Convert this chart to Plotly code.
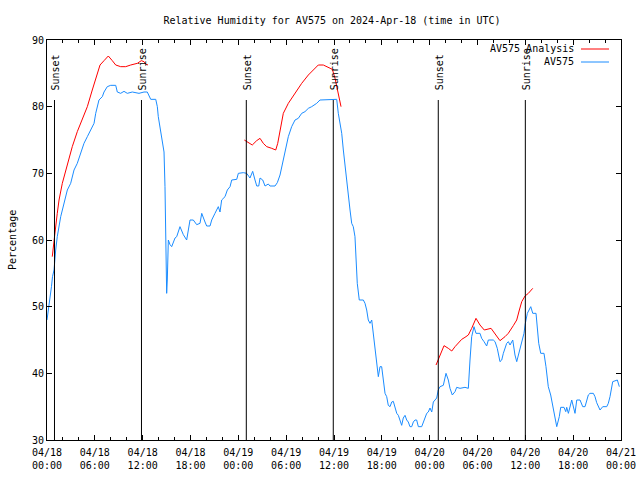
import pandas as pd
import plotly.graph_objects as go

start = pd.Timestamp("2024-04-18 00:00")

title_text = "Relative Humidity for AV575 on 2024-Apr-18 (time in UTC)"
obs_name = "AV575"
ana_name = "AV575 Analysis"

# observed RH (hours since 04/18 00:00 UTC, %)
obs_hours = [0, 0.19, 0.38, 0.56, 0.69, 0.88, 1.09, 1.29, 1.72, 2.13, 2.55, 2.97, 3.39, 3.80,
             4.23, 4.64, 5.06, 5.48, 5.90, 6.11, 6.31, 6.52, 6.94, 7.15, 7.56, 7.99, 8.62,
             8.82, 9.24, 9.66, 10.07, 10.70, 11.54, 12.17, 12.58, 13.01, 13.64, 13.84, 13.96,
             14.26, 14.51, 14.68, 14.80, 14.93, 15.01, 15.09, 15.22, 15.43, 15.64, 16.06,
             16.27, 16.68, 17.10, 17.52, 17.94, 18.35, 18.78, 19.19, 19.41, 19.82, 20.03,
             20.45, 20.66, 21.07, 21.49, 21.70, 21.91, 22.33, 22.62, 22.96, 23.17, 23.80,
             24.00, 24.62, 25.05, 25.46, 25.80, 26.09, 26.31, 26.56, 26.72, 27.06, 27.35,
             27.76, 27.97, 28.60, 28.89, 29.23, 29.44, 29.85, 30.27, 30.69, 31.11, 31.52,
             31.95, 32.36, 32.78, 33.20, 33.62, 33.83, 34.24, 36.34, 36.54, 36.75, 36.97,
             37.17, 37.38, 37.59, 37.79, 38.01, 38.22, 38.42, 38.63, 38.76, 38.92, 39.17,
             39.68, 39.89, 40.10, 40.30, 40.52, 40.73, 40.93, 41.14, 41.36, 41.56, 41.77,
             41.98, 42.19, 42.40, 42.61, 42.81, 43.03, 43.24, 43.44, 43.65, 43.87, 44.07,
             44.28, 44.49, 44.69, 44.91, 45.12, 45.32, 45.53, 45.75, 45.95, 46.16, 46.37,
             46.58, 47.00, 47.20, 47.42, 47.63, 47.83, 48.04, 48.26, 48.46, 48.67, 48.88,
             49.08, 49.30, 49.71, 50.05, 50.34, 50.55, 50.84, 51.18, 51.39, 51.81, 52.43,
             52.85, 53.06, 53.27, 53.56, 53.81, 54.31, 54.52, 54.82, 55.15, 55.36, 55.98,
             56.20, 56.48, 56.82, 57.04, 57.24, 57.66, 57.87, 58.08, 58.42, 58.70, 58.92,
             59.21, 59.55, 59.83, 60.00, 60.25, 60.68, 60.93, 61.34, 61.50, 61.68, 61.93,
             62.34, 62.59, 62.88, 63.18, 63.43, 63.64, 63.94, 64.26, 64.44, 64.85, 65.07,
             65.19, 65.40, 65.82, 66.02, 66.23, 66.45, 66.86, 67.20, 67.49, 67.90, 68.11,
             68.53, 68.74, 68.95, 69.15, 69.37, 69.71, 70.21, 70.41, 70.62, 70.96, 71.54,
             71.79]
obs_values = [48, 49.5, 51, 53, 54.5, 55.5, 58.5, 60.5, 63.5, 65.5, 67.5, 68.5, 70.5, 71.5,
              73, 74.5, 75.5, 76.5, 77.5, 79, 80, 81, 81.5, 82.2, 83, 83.2, 83.2,
              82.2, 82, 82.3, 82, 82.2, 82, 82.2, 82.2, 81.1, 81.1, 80, 78.5,
              76, 74.5, 73.2, 68, 57.5, 52, 54, 60, 59.3, 59, 60.3,
              60.5, 62, 60.8, 60, 63, 63, 62.3, 62.5, 64, 62.7, 62.1,
              62.1, 63, 64, 65, 64.2, 66, 66.5, 67.5, 68, 69, 69.1,
              70, 70.1, 70, 69.3, 70.3, 69, 68.1, 68.1, 69.3, 69, 68.1,
              68.4, 68.1, 68.1, 68.6, 69.75, 71, 73.5, 75.5, 77, 78, 78.25,
              79, 79.25, 79.75, 80, 80.25, 80.5, 81, 81.1, 79, 77.5, 76,
              73.5, 71, 68.5, 66.5, 64.5, 62.5, 62, 60.5, 57.5, 53.5, 51,
              51, 50.5, 49.5, 48, 47.5, 48, 46, 44, 42, 39.5, 41,
              41, 39, 37, 36.5, 35.2, 35, 35.7, 35.8, 34.8, 34, 33.7,
              33, 32.2, 33.3, 33.7, 33, 32.7, 32, 32, 32.7, 33, 33,
              32, 32, 32.7, 33.3, 34, 34.2, 34.8, 34.2, 35.7, 36, 36.3,
              37.5, 38, 38.2, 40, 39, 37.75, 36.75, 37.25, 37.9, 37.75, 37.9,
              37.75, 42, 45.5, 47, 46, 46, 45.25, 44.75, 44.1, 45, 45,
              44.75, 43.75, 41.75, 42, 43, 44.5, 44.75, 44.25, 45, 42.75, 41.75,
              43.25, 44.75, 46, 47.5, 49, 50, 49, 49, 47, 44.5, 43,
              43, 41, 38, 36.75, 35.25, 33.75, 32, 33.5, 34.9, 34.9, 34.25,
              34.9, 34, 36, 35, 34, 36, 36, 35, 35, 36.75, 37,
              37, 36.5, 35.6, 35, 34.5, 35, 35, 35.5, 36.5, 38.75, 39,
              38]

# analysis RH, three segments
ana1_hours = [0.66, 0.79, 0.97, 1.29, 1.51, 1.92, 2.35, 2.76, 3.17, 3.80, 4.43, 5.06, 5.68,
              6.31, 6.65, 7.15, 7.69, 8.19, 8.62, 9.24, 9.87, 10.50, 11.33, 11.83, 12.17,
              12.38, 12.67]
ana1_values = [57.5, 59.25, 60.75, 64, 66, 68.5, 70.5, 72.5, 74, 76.25, 78, 80, 82.5,
               85, 86.25, 86.9, 87.6, 86.9, 86.25, 86, 86, 86.25, 86.5, 86.9, 86.75,
               86.4, 86.25]
ana2_hours = [24.75, 25.25, 25.75, 26.30, 26.72, 27.13, 27.56, 28.19, 28.69, 28.94, 29.23,
              29.64, 30.27, 31.11, 31.95, 32.78, 33.62, 34.03, 34.66, 35.29, 35.79, 36.13,
              36.46, 36.75, 36.88]
ana2_values = [75, 74.6, 74.25, 74.9, 75.25, 74.5, 74, 73.75, 73.5, 74.5, 76.5,
               79, 80.5, 82, 83.5, 84.75, 85.75, 86.25, 86.25, 85.9, 85.6, 84.25,
               82.5, 80.5, 80]
ana3_hours = [48.80, 49.08, 49.38, 49.80, 50.34, 50.77, 51.18, 51.59, 52.02, 52.43, 52.85,
              53.27, 53.81, 54.31, 54.85, 55.70, 56.20, 56.82, 57.45, 57.86, 58.49, 58.92,
              59.25, 59.55, 59.96, 60.38, 60.93]
ana3_values = [41.25, 42, 42.9, 44.15, 43.75, 43.35, 44, 44.5, 45.1, 45.4, 45.75,
               46.75, 48.25, 47.25, 46.5, 46.75, 45.9, 44.9, 45.5, 46, 47.15, 48,
               49.5, 50.75, 51.6, 52, 52.75]

sunset_hours = [0.94, 25.00, 49.08]
sunrise_hours = [11.85, 35.91, 60.00]

y_ticks = [30, 40, 50, 60, 70, 80, 90]

FONT = "DejaVu Sans Mono"
RED = "#ff0000"
BLUE = "#1a8cff"


def t(h):
    if h is None:
        return None
    return (start + pd.Timedelta(hours=h)).strftime("%Y-%m-%d %H:%M:%S")


ana_x = [t(h) for h in ana1_hours] + [None] + [t(h) for h in ana2_hours] + [None] + [t(h) for h in ana3_hours]
ana_y = ana1_values + [None] + ana2_values + [None] + ana3_values

fig = go.Figure()
fig.add_trace(go.Scatter(x=ana_x, y=ana_y, mode="lines", name=ana_name,
                         line=dict(color=RED, width=1), connectgaps=False))
fig.add_trace(go.Scatter(x=[t(h) for h in obs_hours], y=obs_values, mode="lines", name=obs_name,
                         line=dict(color=BLUE, width=1)))

shapes = []
annotations = []
for label, hours in (("Sunset", sunset_hours), ("Sunrise", sunrise_hours)):
    for h in hours:
        shapes.append(dict(type="line", xref="x", yref="y domain", x0=t(h), x1=t(h), y0=0, y1=0.85,
                           line=dict(color="black", width=1)))
        annotations.append(dict(x=t(h), y=0.87, xref="x", yref="y domain", text=label,
                                textangle=-90, showarrow=False, xanchor="center", yanchor="bottom",
                                xshift=1, font=dict(family=FONT, size=10, color="black")))

# manual legend (gnuplot style: text right-aligned, sample on the right)
for i, (name, col) in enumerate(((ana_name, RED), (obs_name, BLUE))):
    yp = 0.9775 - i * 0.0325
    annotations.append(dict(x=0.921, y=yp, xref="paper", yref="paper", text=name, showarrow=False,
                            xanchor="right", yanchor="middle",
                            font=dict(family=FONT, size=10, color="black")))
    shapes.append(dict(type="line", xref="paper", yref="paper", x0=0.9303, x1=0.9791, y0=yp, y1=yp,
                       line=dict(color=col, width=1)))

annotations.append(dict(x=-0.061, y=0.5, xref="paper", yref="paper", text="Percentage",
                        textangle=-90, showarrow=False, xanchor="center", yanchor="middle",
                        font=dict(family=FONT, size=10, color="black")))

fig.update_layout(
    width=640, height=480,
    margin=dict(l=47, r=19, t=40, b=40, autoexpand=False),
    paper_bgcolor="white", plot_bgcolor="white",
    showlegend=False,
    font=dict(family=FONT, size=10, color="black"),
    title=dict(text=title_text, x=332 / 640, xref="container", xanchor="center",
               y=1 - 20 / 480, yref="container", yanchor="middle",
               font=dict(family=FONT, size=10, color="black")),
    shapes=shapes, annotations=annotations,
)
fig.update_xaxes(
    type="date", range=[t(0), t(72)],
    dtick=6 * 3600 * 1000, tick0=t(0), tickformat="%m/%d<br>%H:%M",
    ticks="inside", ticklen=5, tickcolor="black", ticklabelstandoff=3,
    minor=dict(dtick=2 * 3600 * 1000, ticks="inside", ticklen=3, tickcolor="black", showgrid=False),
    showline=True, linecolor="black", linewidth=1, mirror="ticks",
    showgrid=False, zeroline=False, automargin=False,
    tickfont=dict(family=FONT, size=10, color="black"),
)
fig.update_yaxes(
    range=[30, 90], tickvals=y_ticks,
    ticks="inside", ticklen=5, tickcolor="black",
    showline=True, linecolor="black", linewidth=1, mirror="ticks",
    showgrid=False, zeroline=False, automargin=False,
    tickfont=dict(family=FONT, size=10, color="black"),
)

fig.write_html("out.html", config={"displayModeBar": False},
               post_script="document.body.style.margin='0px';document.body.style.padding='0px';")
